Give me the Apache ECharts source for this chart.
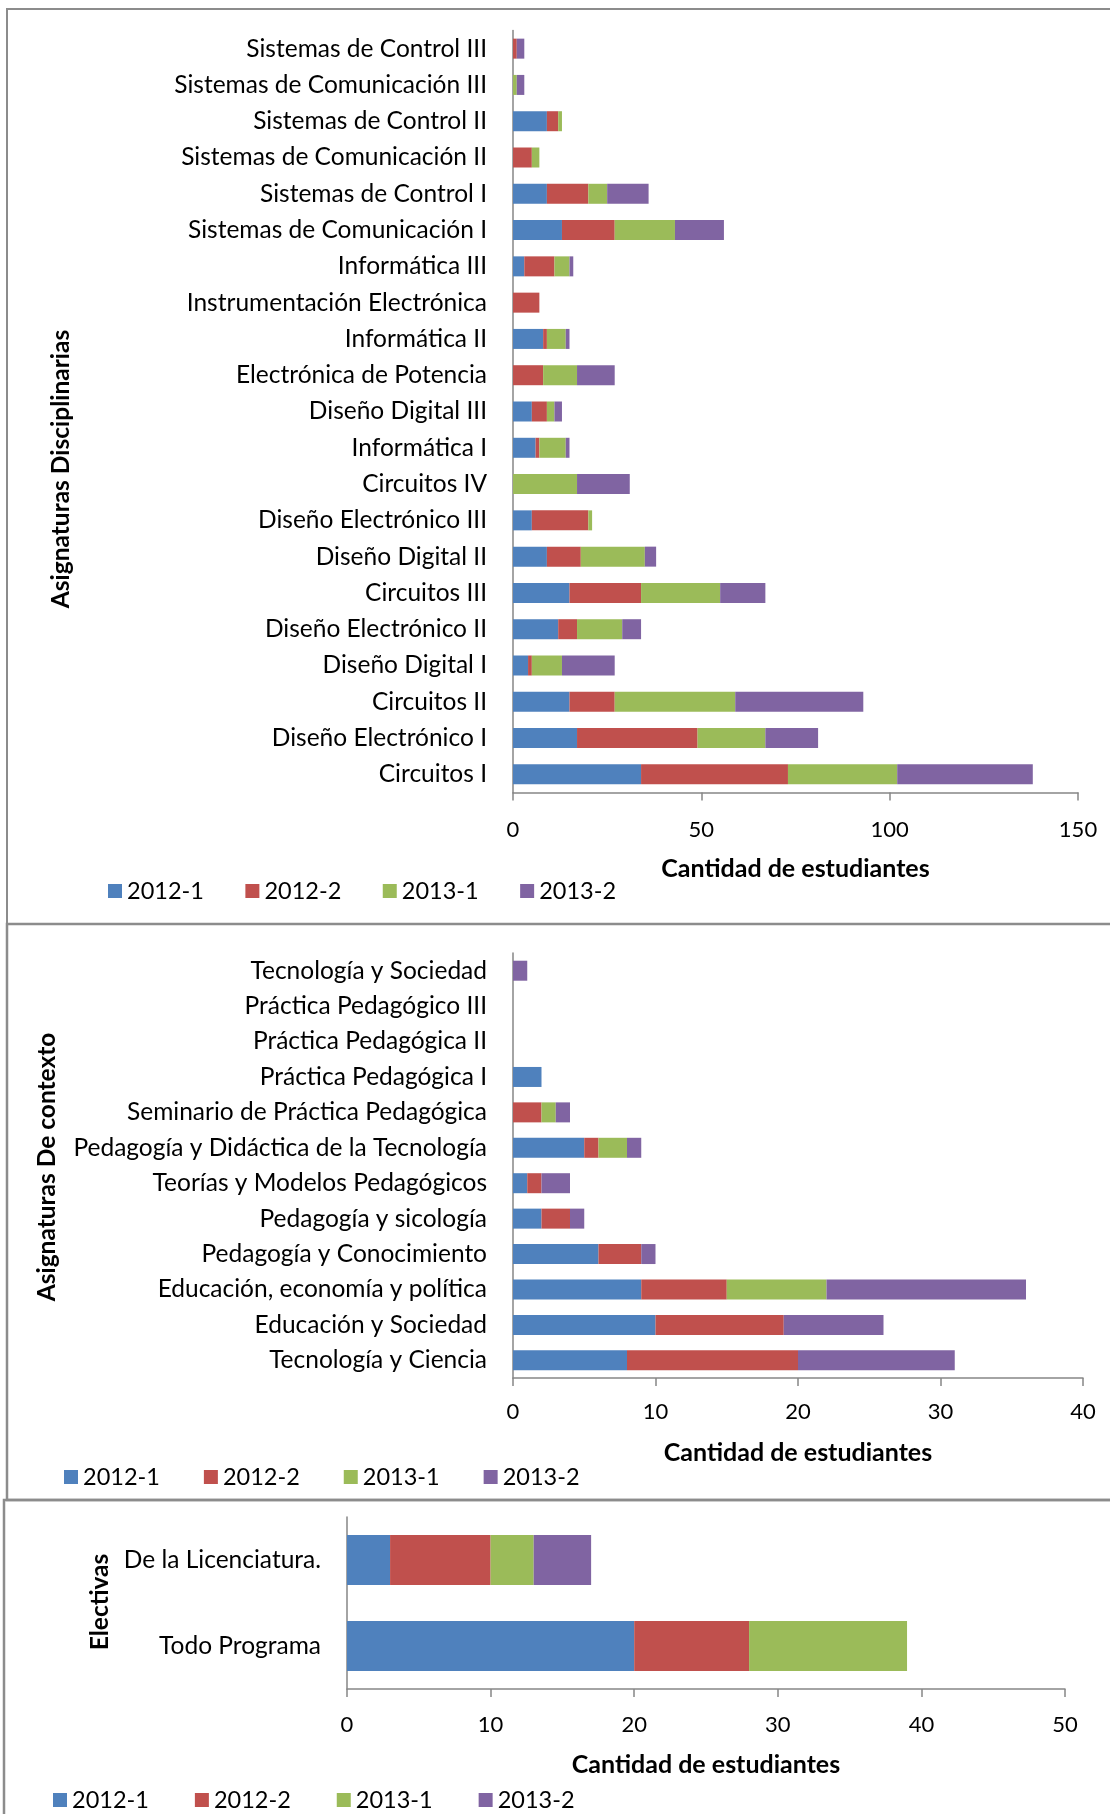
<!DOCTYPE html>
<html><head><meta charset="utf-8">
<script src="https://cdn.jsdelivr.net/npm/echarts@6/dist/echarts.min.js"></script>
<style>html,body{margin:0;padding:0;background:#fff}#c{width:1110px;height:1814px}</style>
</head><body><div id="c"></div>
<script>
var seriesNames = ['2012-1','2012-2','2013-1','2013-2'];
var colors = ['#4F81BD','#C0504D','#9BBB59','#8064A2'];

var catsDisc = ['Sistemas de Control III','Sistemas de Comunicación III','Sistemas de Control II','Sistemas de Comunicación II','Sistemas de Control I','Sistemas de Comunicación I','Informática III','Instrumentación Electrónica','Informática II','Electrónica de Potencia','Diseño Digital III','Informática I','Circuitos IV','Diseño Electrónico III','Diseño Digital II','Circuitos III','Diseño Electrónico II','Diseño Digital I','Circuitos II','Diseño Electrónico I','Circuitos I'];
var disc2012_1 = [0,0,9,0,9,13,3,0,8,0,5,6,0,5,9,15,12,4,15,17,34];
var disc2012_2 = [1,0,3,5,11,14,8,7,1,8,4,1,0,15,9,19,5,1,12,32,39];
var disc2013_1 = [0,1,1,2,5,16,4,0,5,9,2,7,17,1,17,21,12,8,32,18,29];
var disc2013_2 = [2,2,0,0,11,13,1,0,1,10,2,1,14,0,3,12,5,14,34,14,36];

var catsCtx = ['Tecnología y Sociedad','Práctica Pedagógico III','Práctica Pedagógica II','Práctica Pedagógica I','Seminario de Práctica Pedagógica','Pedagogía y Didáctica de la Tecnología','Teorías y Modelos Pedagógicos','Pedagogía y sicología','Pedagogía y Conocimiento','Educación, economía y política','Educación y Sociedad','Tecnología y Ciencia'];
var ctx2012_1 = [0,0,0,2,0,5,1,2,6,9,10,8];
var ctx2012_2 = [0,0,0,0,2,1,1,2,3,6,9,12];
var ctx2013_1 = [0,0,0,0,1,2,0,0,0,7,0,0];
var ctx2013_2 = [1,0,0,0,1,1,2,1,1,14,7,11];

var catsElec = ['De la Licenciatura.','Todo Programa'];
var elec2012_1 = [3,20];
var elec2012_2 = [7,8];
var elec2013_1 = [3,11];
var elec2013_2 = [4,0];

var xTitle = 'Cantidad de estudiantes';
var yTitles = ['Asignaturas Disciplinarias','Asignaturas De contexto','Electivas'];
var xMax = [150, 40, 50];
var xInterval = [50, 10, 10];

var FONT = 'Lato';
var AX = '#868686';

var chart = echarts.init(document.getElementById('c'), null, {renderer:'canvas'});

var grids = [
  {left:513, top:30.5, width:565, height:762},
  {left:513, top:953, width:570, height:425},
  {left:347, top:1517, width:718, height:172}
];
var cats = [catsDisc, catsCtx, catsElec];
var data = [
  [disc2012_1, disc2012_2, disc2013_1, disc2013_2],
  [ctx2012_1, ctx2012_2, ctx2013_1, ctx2013_2],
  [elec2012_1, elec2012_2, elec2013_1, elec2013_2]
];
var barW = [20, 20, 50];
var labMargin = [26, 23, 25];
var nameGaps = [64, 62, 63];

var xAxes = [], yAxes = [], series = [];
for (var g = 0; g < 3; g++) {
  xAxes.push({
    type:'value', gridIndex:g, min:0, max:xMax[g], interval:xInterval[g],
    splitLine:{show:false},
    axisLine:{show:true, lineStyle:{color:AX, width:1.5}},
    axisTick:{show:true, length:8, inside:false, lineStyle:{color:AX, width:1.5}},
    axisLabel:{color:'#000', fontFamily:FONT, fontSize:22, margin:labMargin[g]},
    name:xTitle, nameLocation:'middle', nameGap:nameGaps[g],
    nameTextStyle:{color:'#000', fontFamily:FONT, fontSize:25, fontWeight:'bold'}
  });
  yAxes.push({
    type:'category', gridIndex:g, data:cats[g], inverse:true,
    axisLine:{show:true, lineStyle:{color:AX, width:1.5}},
    axisTick:{show:false},
    axisLabel:{color:'#000', fontFamily:FONT, fontSize:24.5, margin:26},
    splitLine:{show:false}
  });
  for (var s = 0; s < 4; s++) {
    series.push({
      type:'bar', name:seriesNames[s], xAxisIndex:g, yAxisIndex:g,
      stack:'st'+g, barWidth:barW[g], data:data[g][s],
      itemStyle:{color:colors[s]}, emphasis:{disabled:true}, animation:false
    });
  }
}

var legendBase = {
  data:seriesNames, icon:'rect', itemWidth:14, itemHeight:14, itemGap:41.5,
  textStyle:{color:'#000', fontFamily:FONT, fontSize:23.5}, orient:'horizontal'
};
var legends = [
  Object.assign({}, legendBase, {left:103, top:874}),
  Object.assign({}, legendBase, {left:59, top:1460, itemGap:44}),
  Object.assign({}, legendBase, {left:48, top:1783, itemGap:46})
];

var graphic = [
  {type:'rect', shape:{x:7, y:9, width:1120, height:915}, style:{fill:'none', stroke:'#8c8c8c', lineWidth:2}, silent:true},
  {type:'rect', shape:{x:7, y:924, width:1120, height:576}, style:{fill:'none', stroke:'#8c8c8c', lineWidth:2.5}, silent:true},
  {type:'rect', shape:{x:4, y:1500, width:1120, height:330}, style:{fill:'none', stroke:'#8c8c8c', lineWidth:2.5}, silent:true},
  {type:'text', x:61, y:469, rotation:Math.PI/2, style:{text:yTitles[0], fill:'#000', font:'bold 24.5px Lato', textAlign:'center', textVerticalAlign:'middle'}},
  {type:'text', x:47, y:1167, rotation:Math.PI/2, style:{text:yTitles[1], fill:'#000', font:'bold 24.5px Lato', textAlign:'center', textVerticalAlign:'middle'}},
  {type:'text', x:100, y:1602, rotation:Math.PI/2, style:{text:yTitles[2], fill:'#000', font:'bold 24.5px Lato', textAlign:'center', textVerticalAlign:'middle'}}
];

chart.setOption({
  animation:false,
  grid:grids, xAxis:xAxes, yAxis:yAxes, series:series,
  legend:legends, graphic:graphic
});
</script></body></html>
